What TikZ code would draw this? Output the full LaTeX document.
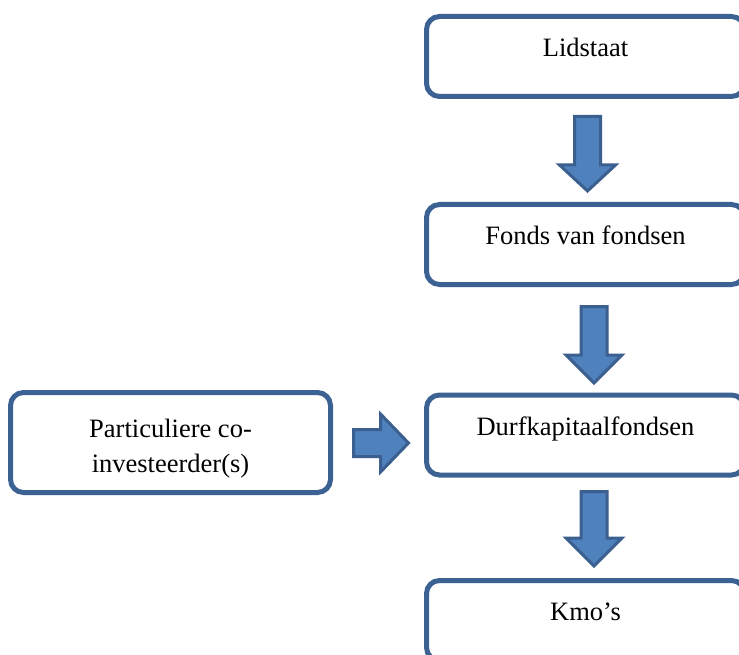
\documentclass[tikz,border=0pt]{standalone}
\usepackage{fontspec}
\setmainfont{Liberation Serif}
\definecolor{boxline}{HTML}{3C6193}
\definecolor{arrowfill}{HTML}{4F81BD}
\definecolor{arrowline}{HTML}{3B5F8E}
\tikzset{
  stepbox/.style={draw=boxline, line width=5pt, rounded corners=13pt, fill=white,
    minimum width=318pt, inner xsep=10pt, inner ysep=20pt,
    text height=20pt, text depth=20pt, font=\fontsize{26.5}{35}\selectfont},
  blockarrow/.style={draw=arrowline, fill=arrowfill, line width=3pt}
}
% block arrow pointing down: x, top, start of head, tip
\newcommand{\arrowdown}[4]{%
  \draw[blockarrow] (#1-13,#2) -- (#1+13,#2) -- (#1+13,#3) -- (#1+28,#3)
    -- (#1,#4) -- (#1-28,#3) -- (#1-13,#3) -- cycle;}
\begin{document}
\begin{tikzpicture}[x=1pt,y=-1pt]
	\useasboundingbox (0,0) rectangle (739,655);
	\node[stepbox] (lid) at (585.5,56.5) {Lidstaat};
	\node[stepbox] (fonds) at (585.5,244.5) {Fonds van fondsen};
	\node[stepbox] (durf) at (585.5,435) {Durfkapitaalfondsen};
	\node[stepbox] (kmo) at (585.5,620.5) {Kmo’s};
	\node[stepbox, align=center, minimum width=320pt, inner ysep=12pt,
	  text height=67.5pt, text depth=8.5pt] (part) at (170.5,442.5)
	  {Particuliere co-\\investeerder(s)};
	% arrows
	\arrowdown{587.5}{116.5}{165}{191}
	\arrowdown{594}{306.5}{355}{383}
	\arrowdown{594}{491.5}{538}{566}
	\draw[blockarrow] (353.5,429.5) -- (380.5,429.5) -- (380.5,414) -- (408.5,443)
	  -- (380.5,472) -- (380.5,456.5) -- (353.5,456.5) -- cycle;
\end{tikzpicture}
\end{document}
